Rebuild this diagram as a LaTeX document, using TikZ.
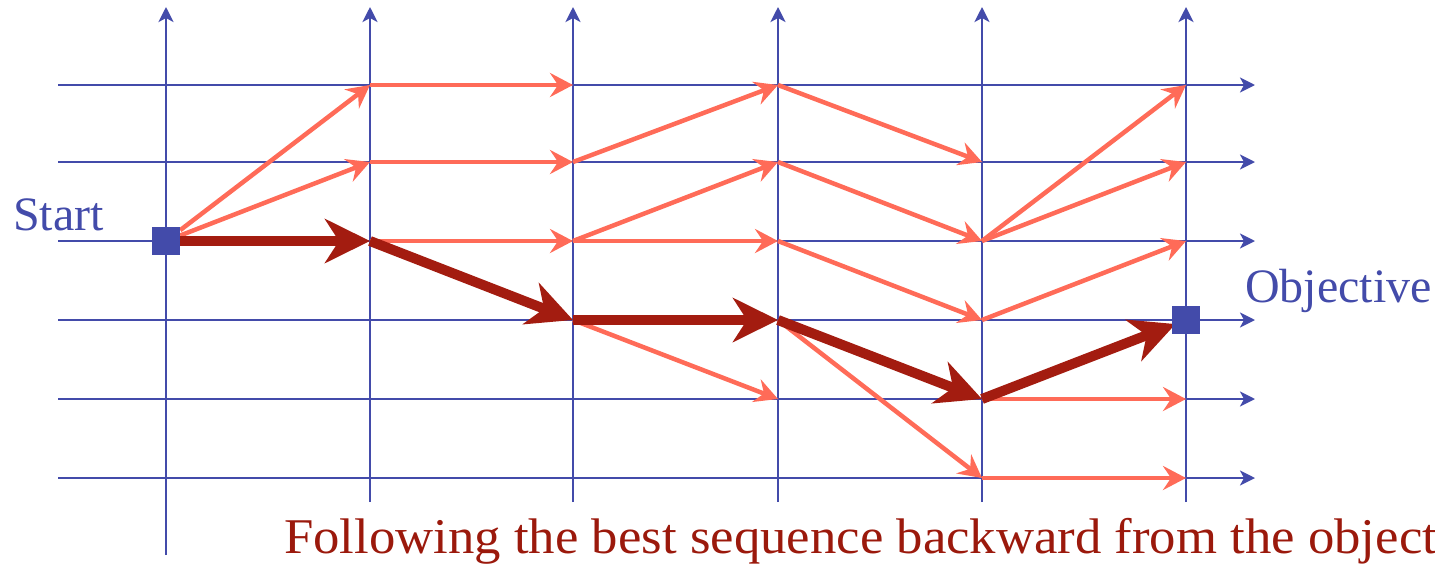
\documentclass[tikz,border=0pt]{standalone}
\usepackage{fontspec}
\usepackage{graphicx}
\setmainfont{Liberation Serif}
\usetikzlibrary{arrows.meta}
\definecolor{gridblue}{RGB}{67,75,170}
\definecolor{salmon}{RGB}{255,107,88}
\definecolor{darkred}{RGB}{163,28,16}
\definecolor{textred}{RGB}{155,25,12}
\begin{document}
\begin{tikzpicture}[x=1pt,y=-1pt,
  gridline/.style={draw=gridblue,line width=2.8pt,-{Stealth[length=15pt,width=15pt,inset=4pt]}},
  cand/.style={draw=salmon,line width=4.5pt,-{Stealth[length=23pt,width=24pt,inset=8pt]}},
  best/.style={draw=darkred,line width=10pt,-{Stealth[length=45pt,width=44pt,inset=14pt]}},
  state/.style={fill=gridblue,minimum size=28pt,inner sep=0pt},
  lbl/.style={font=\fontsize{48}{50}\selectfont,inner sep=0pt}]
\useasboundingbox (0,0) rectangle (1435,563);
\clip (0,0) rectangle (1435,563);
% grid points
\foreach \x [count=\c] in {166,370,573,778,982,1186}
  \foreach \y [count=\r] in {85,162,241,320,399,478}
    \coordinate (p\c\r) at (\x,\y);
% grid line ends
\foreach \y [count=\r] in {85,162,241,320,399,478} {
  \coordinate (hl\r) at (58,\y);
  \coordinate (hr\r) at (1255,\y);
}
\foreach \x [count=\c] in {166,370,573,778,982,1186} {
  \coordinate (vt\c) at (\x,7);
  \coordinate (vb\c) at (\x,502);
}
\coordinate (vb1) at (166,555);
% grid
\foreach \r in {1,...,6} \draw[gridline] (hl\r) -- (hr\r);
\foreach \c in {1,...,6} \draw[gridline] (vb\c) -- (vt\c);
% states
\node[state] (start) at (p13) {};
\node[state] (obj) at (p64) {};
% candidate transitions
\foreach \a/\b in {start/p21,start/p22,
  p21/p31,p22/p32,p23/p33,
  p32/p41,p33/p42,p33/p43,p34/p45,
  p41/p52,p42/p53,p43/p54,p44/p56,
  p53/p61,p53/p62,p54/p63,p55/p65,p56/p66}
  \draw[cand] (\a) -- (\b);
% best path
\draw[best] (start) -- (p23);
\draw[best] (p23) -- (p34);
\draw[best] (p34) -- (p44);
\draw[best] (p44) -- (p55);
\draw[best,shorten >=-4pt] (p55) -- (obj);
\node[state] at (p13) {};
\node[state] at (p64) {};
% labels
\node[lbl,text=gridblue,anchor=base west] (startlbl) at (13,230) {Start};
\node[lbl,text=gridblue,anchor=base west] (objlbl) at (1245,302) {Objective};
\node[inner sep=0pt,text=textred,anchor=base west,font=\fontsize{50}{52}\selectfont] (caption) at (284,553) {\scalebox{1.055}[1]{Following the best sequence backward from the objective}};
\end{tikzpicture}
\end{document}
